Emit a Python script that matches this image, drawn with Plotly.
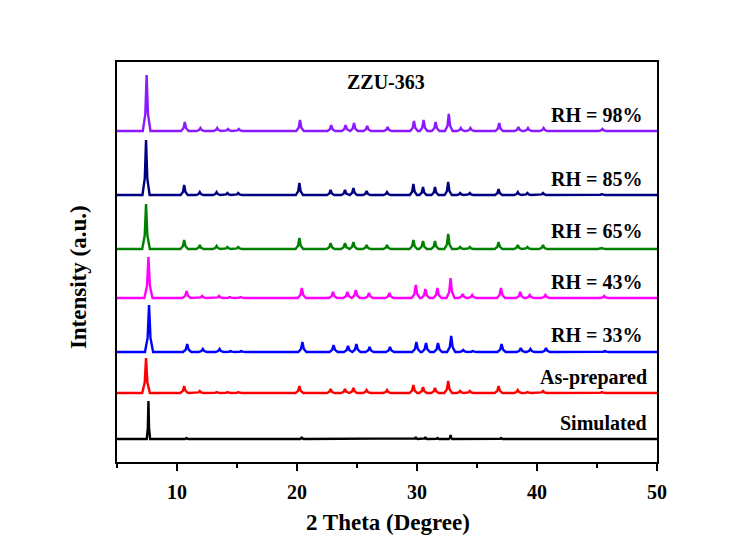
import plotly.graph_objects as go

# Reflection positions (2θ, degrees) shared by all patterns
peak_pos = [7.42, 10.6, 11.9, 13.3, 14.2, 15.1, 20.2, 22.8, 24.0, 24.7, 25.8, 27.5,
            29.7, 30.5, 31.5, 32.6, 33.6, 34.4, 36.8, 38.4, 39.2, 40.5, 45.4]

# Series names, colours and stacking offsets (a.u.)
names = ["Simulated", "As-prepared", "RH = 33%", "RH = 43%", "RH = 65%", "RH = 85%", "RH = 98%"]
colors = ["#000000", "#FF0000", "#0000FF", "#FF00FF", "#008000", "#000080", "#8B1AFF"]
offsets = [23, 69, 110, 164, 213, 267, 331]
shifts = [0.2, 0.0, 0.25, 0.2, 0.0, 0.0, 0.05]
widths = [0.14, 0.32, 0.34, 0.34, 0.32, 0.3, 0.32]

# Peak intensities per series (a.u.), aligned with peak_pos
sim_h = [38, 1, 0, 0, 0, 0, 2, 0, 0, 0, 0, 0, 2, 2, 1, 4, 0, 0, 1, 0, 0, 0, 0]
asprep_h = [35, 7, 2, 1, 1, 1, 7, 4, 4, 5, 3, 3, 8, 6, 5, 12, 2, 2, 7, 3, 1, 2, 1]
rh33_h = [47, 8, 3, 3, 1, 1, 10, 7, 6, 8, 5, 5, 10, 9, 9, 16, 2, 1, 8, 4, 3, 4, 1]
rh43_h = [41, 7, 2, 2, 1, 1, 10, 6, 6, 8, 5, 5, 13, 9, 10, 20, 4, 3, 10, 6, 3, 3, 2]
rh65_h = [45, 9, 4, 3, 2, 2, 11, 6, 6, 7, 4, 4, 9, 8, 8, 15, 2, 2, 7, 4, 2, 4, 1]
rh85_h = [55, 10, 3, 3, 2, 2, 12, 5, 5, 7, 4, 3, 11, 8, 8, 13, 2, 2, 6, 3, 2, 2, 1]
rh98_h = [56, 9, 3, 3, 2, 2, 11, 6, 6, 8, 5, 4, 10, 11, 9, 17, 3, 3, 8, 4, 3, 3, 2]
heights = [sim_h, asprep_h, rh33_h, rh43_h, rh65_h, rh85_h, rh98_h]

# Label positions (2θ, a.u.)
label_x = [49.3, 49.3, 48.9, 48.9, 48.9, 48.9, 48.9]
label_y = [39, 85, 127, 180, 231, 283, 347]

X_MIN, X_MAX = 5, 50


def pattern(base, shift, w, hs):
    """Polyline through each reflection: foot, shoulder, apex, shoulder, foot."""
    xs, ys = [X_MIN], [base]
    for p, h in zip(peak_pos, hs):
        if h <= 0:
            continue
        c = p + shift
        xs += [c - w, c - 0.35 * w, c, c + 0.35 * w, c + w]
        ys += [base, base + 0.3 * h, base + h, base + 0.3 * h, base]
    xs.append(X_MAX)
    ys.append(base)
    return xs, ys


fig = go.Figure()
for name, col, off, sh, w, hs in zip(names, colors, offsets, shifts, widths, heights):
    xs, ys = pattern(off, sh, w, hs)
    fig.add_trace(go.Scatter(x=xs, y=ys, mode="lines", name=name,
                             line=dict(color=col, width=2.4), showlegend=False))

serif = "Liberation Serif, Times New Roman, serif"
for name, lx, ly in zip(names, label_x, label_y):
    fig.add_annotation(x=lx, y=ly, text=f"<b>{name}</b>", showarrow=False,
                       xanchor="right", yanchor="middle",
                       font=dict(family=serif, size=20, color="black"))

fig.add_annotation(x=27.4, y=380, text="<b>ZZU-363</b>", showarrow=False,
                   xanchor="center", yanchor="middle",
                   font=dict(family=serif, size=20, color="black"))

# Axis titles
fig.add_annotation(xref="paper", yref="paper", x=-0.072, y=0.4625,
                   text="<b>Intensity (a.u.)</b>", textangle=-90, showarrow=False,
                   xanchor="center", yanchor="middle",
                   font=dict(family=serif, size=23, color="black"))
fig.add_annotation(xref="paper", yref="paper", x=0.502, y=-0.15,
                   text="<b>2 Theta (Degree)</b>", showarrow=False,
                   xanchor="center", yanchor="middle",
                   font=dict(family=serif, size=23, color="black"))

fig.update_layout(
    width=749, height=538,
    margin=dict(l=117, r=92, t=62, b=76, autoexpand=False),
    paper_bgcolor="white", plot_bgcolor="white",
    font=dict(family=serif, color="black"),
)
fig.update_xaxes(
    range=[X_MIN, X_MAX], tickvals=[10, 20, 30, 40, 50],
    ticks="outside", ticklen=7, tickwidth=2, tickcolor="black",
    minor=dict(tickvals=[5, 15, 25, 35, 45], ticks="outside", ticklen=4,
               tickwidth=2, tickcolor="black"),
    showline=True, linewidth=2, linecolor="black", mirror=True,
    showgrid=False, zeroline=False, automargin=False,
    tickfont=dict(family=serif, size=20, color="black", weight="bold"),
    ticklabelstandoff=4,
)
fig.update_yaxes(
    range=[0, 400], showticklabels=False, ticks="",
    showline=True, linewidth=2, linecolor="black", mirror=True,
    showgrid=False, zeroline=False, automargin=False,
)

fig.write_html("out.html")
